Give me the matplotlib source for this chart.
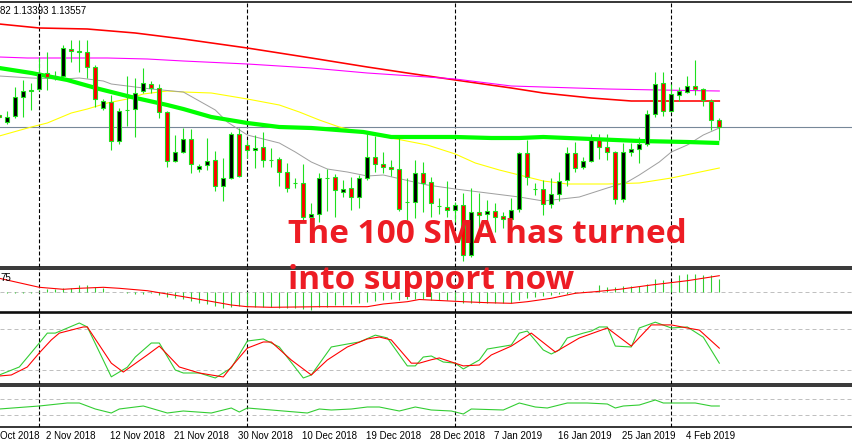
import numpy as np
import matplotlib
matplotlib.use("Agg")
import matplotlib.pyplot as plt
from matplotlib.patches import Rectangle

# daily candles, bar index 0..90 (Sunday bars included, like the MT4 feed)
opens = [1.1368, 1.1361, 1.1367, 1.1386, 1.1392, 1.1394, 1.1410, 1.1407, 1.1407, 1.1434,
         1.1431, 1.1431, 1.1416, 1.1375, 1.1381, 1.1342, 1.1373, 1.1374, 1.1392, 1.1399,
         1.1395, 1.1371, 1.1322, 1.1331, 1.1344, 1.1314, 1.1318, 1.1323, 1.1297, 1.1305,
         1.1349, 1.1338, 1.1333, 1.1336, 1.1323, 1.1324, 1.1311, 1.1300, 1.1300, 1.1266,
         1.1269, 1.1305, 1.1306, 1.1291, 1.1295, 1.1286, 1.1305, 1.1326, 1.1319, 1.1316,
         1.1314, 1.1281, 1.1281, 1.1310, 1.1301, 1.1277, 1.1276, 1.1273, 1.1278, 1.1228,
         1.1271, 1.1269, 1.1272, 1.1267, 1.1264, 1.1274, 1.1330, 1.1294, 1.1294, 1.1279,
         1.1289, 1.1303, 1.1330, 1.1316, 1.1322, 1.1343, 1.1336, 1.1331, 1.1284, 1.1331,
         1.1334, 1.1339, 1.1369, 1.1400, 1.1372, 1.1388, 1.1391, 1.1397, 1.1394, 1.1382,
         1.1363]
highs = [1.1369, 1.1372, 1.1396, 1.1403, 1.1400, 1.1426, 1.1431, 1.1412, 1.1438, 1.1443,
         1.1443, 1.1443, 1.1418, 1.1384, 1.1388, 1.1375, 1.1407, 1.1405, 1.1415, 1.1402,
         1.1399, 1.1372, 1.1348, 1.1355, 1.1354, 1.1319, 1.1345, 1.1332, 1.1325, 1.1351,
         1.1355, 1.1343, 1.1348, 1.1351, 1.1335, 1.1326, 1.1320, 1.1305, 1.1319, 1.1280,
         1.1310, 1.1314, 1.1309, 1.1303, 1.1306, 1.1308, 1.1350, 1.1347, 1.1331, 1.1323,
         1.1345, 1.1305, 1.1323, 1.1321, 1.1306, 1.1285, 1.1302, 1.1281, 1.1290, 1.1295,
         1.1290, 1.1283, 1.1280, 1.1271, 1.1285, 1.1331, 1.1343, 1.1300, 1.1303, 1.1305,
         1.1311, 1.1336, 1.1341, 1.1326, 1.1349, 1.1349, 1.1349, 1.1332, 1.1340, 1.1340,
         1.1346, 1.1373, 1.1411, 1.1411, 1.1399, 1.1396, 1.1407, 1.1423, 1.1395, 1.1384,
         1.1365]
lows = [1.1365, 1.1359, 1.1365, 1.1366, 1.1373, 1.1392, 1.1393, 1.1403, 1.1406, 1.1421,
        1.1411, 1.1405, 1.1376, 1.1373, 1.1333, 1.1339, 1.1357, 1.1346, 1.1390, 1.1390,
        1.1365, 1.1316, 1.1321, 1.1330, 1.1310, 1.1311, 1.1313, 1.1292, 1.1282, 1.1304,
        1.1306, 1.1325, 1.1315, 1.1316, 1.1316, 1.1297, 1.1291, 1.1295, 1.1263, 1.1263,
        1.1261, 1.1272, 1.1266, 1.1286, 1.1273, 1.1275, 1.1303, 1.1311, 1.1310, 1.1307,
        1.1272, 1.1263, 1.1265, 1.1271, 1.1266, 1.1269, 1.1266, 1.1261, 1.1222, 1.1226,
        1.1248, 1.1251, 1.1251, 1.1255, 1.1258, 1.1271, 1.1298, 1.1288, 1.1268, 1.1275,
        1.1282, 1.1297, 1.1311, 1.1314, 1.1321, 1.1324, 1.1323, 1.1279, 1.1281, 1.1327,
        1.1320, 1.1337, 1.1366, 1.1367, 1.1371, 1.1382, 1.1390, 1.1388, 1.1377, 1.1353,
        1.1343]
closes = [1.1366, 1.1366, 1.1386, 1.1392, 1.1393, 1.1410, 1.1406, 1.1407, 1.1435, 1.1432,
          1.1432, 1.1416, 1.1384, 1.1382, 1.1342, 1.1372, 1.1373, 1.1390, 1.1400, 1.1395,
          1.1371, 1.1322, 1.1331, 1.1344, 1.1319, 1.1317, 1.1322, 1.1297, 1.1305, 1.1349,
          1.1307, 1.1333, 1.1335, 1.1323, 1.1323, 1.1311, 1.1295, 1.1300, 1.1266, 1.1269,
          1.1305, 1.1305, 1.1293, 1.1294, 1.1286, 1.1305, 1.1326, 1.1319, 1.1316, 1.1314,
          1.1274, 1.1281, 1.1310, 1.1300, 1.1280, 1.1277, 1.1273, 1.1278, 1.1228, 1.1271,
          1.1268, 1.1272, 1.1266, 1.1264, 1.1273, 1.1330, 1.1306, 1.1294, 1.1279, 1.1289,
          1.1302, 1.1330, 1.1315, 1.1322, 1.1343, 1.1336, 1.1331, 1.1284, 1.1331, 1.1334,
          1.1339, 1.1369, 1.1399, 1.1372, 1.1389, 1.1392, 1.1397, 1.1394, 1.1383, 1.1363,
          1.13557]

# moving averages (bar index, price)
sma200_x = [0, 5, 11, 17, 23, 31, 39, 46, 51, 57, 64, 68, 74, 79, 90]
sma200_y = [1.1459, 1.1455, 1.1454, 1.1450, 1.1444, 1.1435, 1.1425, 1.1416, 1.1410, 1.1403,
            1.1395, 1.1390, 1.1385, 1.1382, 1.1382]
ema200_x = [0, 3.5, 13.5, 18.5, 23, 31, 39, 46, 53.5, 57, 64, 68, 76, 82.5, 90]
ema200_y = [1.1426, 1.1425, 1.1425, 1.1424, 1.1422, 1.1419, 1.1415, 1.1410, 1.1406, 1.1404,
            1.1397, 1.1396, 1.1394, 1.1393, 1.1392]
sma100_x = [0, 4, 8.5, 12.5, 16.5, 21, 23, 26.5, 31, 35, 39, 45.5, 49, 57, 61.5, 65, 68, 74, 80, 86, 90]
sma100_y = [1.1415, 1.1410, 1.1403, 1.1394, 1.1386, 1.1378, 1.1374, 1.1366, 1.1360, 1.1356,
            1.1355, 1.1351, 1.1346, 1.1346, 1.1345, 1.1345, 1.1346, 1.1344, 1.1342, 1.1341, 1.1340]
sma20_x = [0, 4, 8, 10, 13, 14, 17, 19, 23, 25, 27, 28.5, 31, 33.5, 35, 37, 39, 41, 43.5, 46,
           48, 53.5, 57, 62, 65, 68, 72.5, 76, 78.5, 80, 82.5, 84, 86, 88, 90]
sma20_y = [1.1407, 1.1405, 1.1404, 1.1405, 1.1402, 1.1399, 1.1396, 1.1394, 1.1391, 1.1382,
           1.1373, 1.1361, 1.1348, 1.1343, 1.1340, 1.1331, 1.1321, 1.1314, 1.1311, 1.1307,
           1.1308, 1.1298, 1.1294, 1.1289, 1.1286, 1.1282, 1.1286, 1.1295, 1.1301, 1.1308,
           1.1321, 1.1331, 1.1338, 1.1348, 1.1355]
sma50_x = [0, 4, 6, 9, 11, 13.5, 16, 18, 21, 23, 26.5, 31, 35, 37.5, 40, 42.5, 45.5, 49, 53.5,
           57, 59.5, 62.5, 66, 68, 71, 76, 80, 84, 90]
sma50_y = [1.1347, 1.1356, 1.1360, 1.1370, 1.1374, 1.1380, 1.1384, 1.1389, 1.1392, 1.1391,
           1.1390, 1.1384, 1.1378, 1.1371, 1.1363, 1.1356, 1.1350, 1.1345, 1.1338, 1.1329,
           1.1320, 1.1313, 1.1306, 1.1302, 1.1299, 1.1299, 1.1300, 1.1305, 1.1315]

# MACD histogram and signal, in pips
macd_hist = [-1, -1, -1, -0.5, -0.5, 1, 3, 3, 4, 4, 7, 7, 5, 4, 0.5, 0.5, -1, -1.5, -1.5, -1,
             -3, -4.5, -5.5, -7, -8.5, -10.5, -12, -14, -16, -15, -14, -14.5, -14.5, -15, -15,
             -15.5, -16, -16, -17, -18, -15, -15, -13, -13, -12, -11, -10, -9, -7.5, -6.5,
             -7.5, -6.5, -6.5, -7, -7.5, -7.5, -7.5, -7.5, -10.5, -11, -11, -11, -11, -11, -11,
             -8, -5.5, -4.5, -4, -3, -2, -1.5, -0.5, 1.5, 0.5, 7, 5, 5, 6, 6, 6, 8.5, 13.5, 12,
             10, 17, 18, 18, 17, 17, 13.5]
signal_x = [0, 5, 8, 10, 13, 15, 18.5, 20, 22.5, 26, 29, 31, 34, 40, 46, 48, 51, 52.5, 58, 61,
            64, 66, 69, 72, 74.5, 77.5, 81.5, 86, 90]
signal_y = [13.7, 4.7, 2.7, 3.7, 4.7, 3.7, 1.3, -0.7, -4, -8.7, -13, -14.7, -15.3, -14.7, -14.7,
            -12, -9.7, -7.5, -9.7, -10.7, -11.3, -9.7, -6.3, -1.3, 0.3, 2.7, 7, 11.3, 16.3]

# stochastic %K / %D
stoch_k_x = [0, 2.5, 5, 6, 7, 10, 11, 14, 16, 17, 19, 20, 22, 23, 25, 27, 29, 31, 33, 35, 38,
             39, 41.5, 43.5, 45, 47, 48.5, 51, 52, 53, 54, 55.5, 57, 58, 60, 61, 64, 65, 66, 68,
             69, 70, 71, 73, 74, 75, 76, 77, 79, 80, 82, 84, 86, 88, 90]
stoch_k_y = [12.7, 24.4, 59.5, 74, 74, 88.8, 83, 10, 24, 39, 59.5, 59.5, 20, 15.6, 15.6, 8.3,
             23, 62.4, 65.4, 53.7, 8.3, 12.7, 53.7, 58, 61, 71, 67, 26, 26, 39, 40.5, 31.7, 30,
             21.5, 34.6, 50.7, 56.6, 74, 77, 49.3, 43.4, 49.3, 66.8, 74, 77, 83, 83, 55, 53.7,
             81.5, 90, 81.5, 83, 68, 30]
stoch_d_x = [0, 1.5, 3.5, 5, 6.5, 7.5, 10.5, 11, 14, 15.5, 18.5, 20, 22.5, 25, 28, 29, 31, 33,
             34, 36.5, 39, 41, 43.5, 46, 47.5, 49, 51.5, 52.5, 54, 55, 58, 60, 61.5, 64, 66.5,
             69.5, 72.5, 76, 79, 81.5, 84, 86, 87.5, 90]
stoch_d_y = [11.2, 12.7, 24.4, 45, 64, 74, 83, 83, 30, 17, 42, 55, 24.4, 15.6, 9.8, 24.4, 52,
             61, 61, 34.6, 12.7, 34.6, 53.7, 65.4, 68.3, 64, 30, 30, 35, 37.6, 26, 27.3, 42, 55,
             74, 46.3, 66.8, 81.5, 55, 86, 86, 81.5, 78.5, 52]

# bottom oscillator (0-100, levels 30/70)
rsi_x = [0, 5, 8.5, 10, 12, 14, 15, 18, 21, 23, 26.5, 29, 30, 31, 34, 38.5, 40, 41.5, 44, 46,
         47.5, 50, 52, 54, 56.5, 58, 59, 63, 65, 67, 68.5, 71, 73.5, 76, 77, 78, 80, 82, 83,
         87, 89, 90]
rsi_y = [45, 52.5, 60, 60, 45, 35, 45, 52.5, 35, 40, 35, 47.5, 37.5, 47.5, 42.5, 35, 45, 42.5,
         45, 50, 50, 40, 50, 42.5, 40, 32.5, 45, 42.5, 60, 50, 47.5, 60, 60, 57.5, 47.5, 52.5,
         55, 67.5, 60, 60, 52.5, 52.5]

separators = [5, 31, 57, 84]
date_bars = [6, 14, 22, 30, 38, 46, 54, 62, 70, 78, 86]
date_labels = ["2 Nov 2018", "12 Nov 2018", "21 Nov 2018", "30 Nov 2018",
               "10 Dec 2018", "19 Dec 2018", "28 Dec 2018", "7 Jan 2019", "16 Jan 2019",
               "25 Jan 2019", "4 Feb 2019"]

W, H = 852, 448
PX = 0.72  # one pixel in points
XLIM = (0.7 / 8, (W + 0.7) / 8)
fig = plt.figure(figsize=(W / 100, H / 100), dpi=100)


def panel(top, bottom):
    ax = fig.add_axes([0, 1 - bottom / H, 1, (bottom - top) / H])
    for side in ("left", "right"):
        ax.spines[side].set_visible(False)
    for side in ("top", "bottom"):
        ax.spines[side].set_linewidth(1.1)
    ax.set_xticks([])
    ax.set_yticks([])
    for b in separators:
        ax.axvline(b, color="black", lw=PX * 1.1, dashes=(3.5, 2), zorder=1)
    ax.set_xlim(*XLIM)
    return ax


ax_main = panel(2, 267.3)
ax_macd = panel(269.3, 311.7)
ax_stoch = panel(313.3, 384.2)
ax_rsi = panel(386, 426.7)

# main chart
bars = np.arange(len(closes))
ax_main.set_ylim(1.12157, 1.1481)
ax_main.axhline(closes[-1], color="#778899", lw=1.1 * PX, zorder=1)
ax_main.plot(sma200_x, sma200_y, color="#ff0000", lw=1.6 * PX, zorder=2)
ax_main.plot(ema200_x, ema200_y, color="#ff00ff", lw=1.1 * PX, zorder=2)
ax_main.plot(sma50_x, sma50_y, color="#ffff00", lw=1.1 * PX, zorder=2)
ax_main.plot(sma20_x, sma20_y, color="#a0a0a0", lw=1.0 * PX, zorder=2)
ax_main.plot(sma100_x, sma100_y, color="#00ff00", lw=4.2 * PX, zorder=2, solid_capstyle="butt")

ax_main.vlines(bars, lows, highs, color="#1ee01e", lw=1.1 * PX, zorder=3)
for b, o, c in zip(bars, opens, closes):
    face = "#ff0000" if c < o else "black"
    ax_main.add_patch(Rectangle((b - 0.27, min(o, c)), 0.54, abs(c - o),
                                facecolor=face, edgecolor="#1ee01e", lw=1.1 * PX, zorder=4))
ax_main.set_xlim(*XLIM)

# MACD panel
ax_macd.set_ylim(-19.7, 22.7)
ax_macd.axhline(0, color="#c0c0c0", lw=PX, dashes=(4, 3), zorder=1)
ax_macd.vlines(bars, 0, macd_hist, color="#32cd32", lw=1.1 * PX, zorder=2)
ax_macd.plot(signal_x, signal_y, color="#ff0000", lw=1.1 * PX, zorder=3)
ax_macd.set_xlim(*XLIM)

# stochastic panel
ax_stoch.set_ylim(-0.8, 103)
for lvl in (20, 80):
    ax_stoch.axhline(lvl, color="#c0c0c0", lw=PX, dashes=(4, 3), zorder=1)
ax_stoch.plot(stoch_k_x, stoch_k_y, color="#32cd32", lw=1.1 * PX, zorder=2)
ax_stoch.plot(stoch_d_x, stoch_d_y, color="#ff0000", lw=1.1 * PX, zorder=3)
ax_stoch.set_xlim(*XLIM)

# bottom oscillator
ax_rsi.set_ylim(0.75, 102.5)
for lvl in (30, 70):
    ax_rsi.axhline(lvl, color="#c0c0c0", lw=PX, dashes=(4, 3), zorder=1)
ax_rsi.plot(rsi_x, rsi_y, color="#32cd32", lw=1.1 * PX, zorder=2)
ax_rsi.set_xlim(*XLIM)

# date labels under the last panel
label_y = -(436 - 426.7) / (426.7 - 386)
xform = ax_rsi.get_xaxis_transform()
for b, lab in zip(date_bars, date_labels):
    ax_rsi.text(b - 0.16, label_y, lab, transform=xform, ha="left", va="center",
                family="Liberation Sans", fontsize=7, clip_on=False)
fig.text(0, 1 - 436 / H, "Oct 2018", ha="left", va="center",
         family="Liberation Sans", fontsize=7)

# header texts
fig.text(0, 1 - 10.7 / H, "82 1.13393 1.13557", family="Liberation Sans", fontsize=7,
         va="center", ha="left")
fig.text(0, 1 - 277.5 / H, "75", family="Liberation Sans", fontsize=7,
         va="center", ha="left")

# annotation
red = "#ed1c24"
t1 = fig.text(288 / W, 1 - 243 / H, "The 100 SMA has turned", color=red, fontsize=27,
              fontweight="bold", family="Open Sans", va="baseline", ha="left", zorder=10)
t2 = fig.text(288 / W, 1 - 289 / H, "into support now", color=red, fontsize=27,
              fontweight="bold", family="Open Sans", va="baseline", ha="left", zorder=10)
fig.canvas.draw()
scale = 398 / t1.get_window_extent().width
t1.set_fontsize(27 * scale)
t2.set_fontsize(27 * scale)

fig.savefig("out.png", dpi=100)
